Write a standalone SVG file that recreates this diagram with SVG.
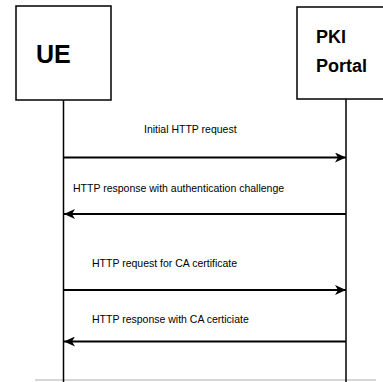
<svg xmlns="http://www.w3.org/2000/svg" width="383" height="382" viewBox="0 0 383 382">
<style>
.box{fill:#fff;stroke:#000;stroke-width:1.5}
.life{stroke:#000;stroke-width:1.5;fill:none}
.msg{stroke:#000;stroke-width:2;fill:none}
.lbl{font-family:"Liberation Sans",Arial,sans-serif;font-size:10.5px;fill:#000}
.title{font-family:"Liberation Sans",Arial,sans-serif;font-weight:bold;fill:#000}
</style>
<defs>
<marker id="ah" markerWidth="12" markerHeight="10" refX="11" refY="5" orient="auto" markerUnits="userSpaceOnUse">
<path d="M0,0 L11,5 L0,10 L3,5 Z" fill="#000"/>
</marker>
</defs>
<line x1="35" y1="380" x2="376" y2="380" stroke="#c8c8c8" stroke-width="1.5"/>
<g id="ue">
<line class="life" x1="63.5" y1="100" x2="63.5" y2="382"/>
<rect class="box" x="16" y="6" width="95" height="94"/>
<text class="title" x="36" y="63" font-size="25">UE</text>
</g>
<g id="pki">
<line class="life" x1="346" y1="99" x2="346" y2="382"/>
<rect class="box" x="297" y="7" width="100" height="92"/>
<text class="title" x="316" y="43" font-size="18">PKI</text>
<text class="title" x="316" y="72" font-size="18">Portal</text>
</g>
<g id="connectors">
<line class="msg" x1="64" y1="157.5" x2="346" y2="157.5" marker-end="url(#ah)"/>
<line class="msg" x1="346" y1="214" x2="64" y2="214" marker-end="url(#ah)"/>
<line class="msg" x1="64" y1="290" x2="346" y2="290" marker-end="url(#ah)"/>
<line class="msg" x1="346" y1="341.5" x2="64" y2="341.5" marker-end="url(#ah)"/>
<text class="lbl" x="144" y="133">Initial HTTP request</text>
<text class="lbl" x="73" y="192">HTTP response with authentication challenge</text>
<text class="lbl" x="92" y="267">HTTP request for CA certificate</text>
<text class="lbl" x="92" y="323">HTTP response with CA certiciate</text>
</g>
</svg>
